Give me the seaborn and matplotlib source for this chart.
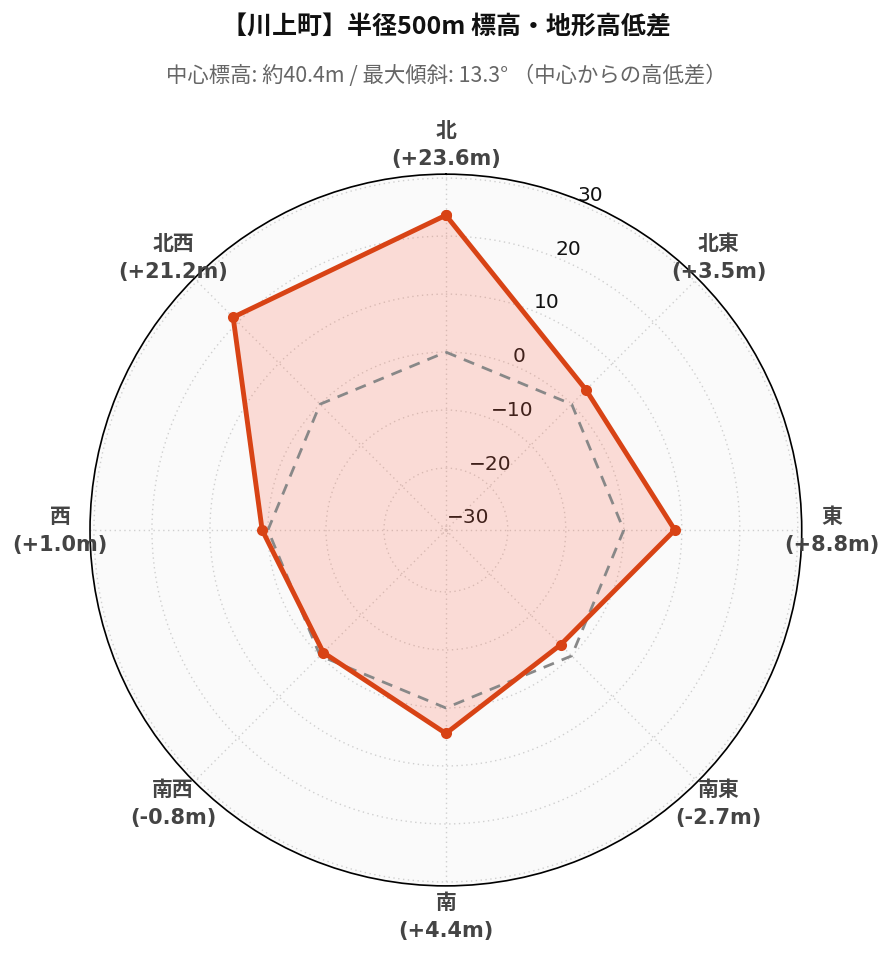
import numpy as np
import pandas as pd
import matplotlib
matplotlib.use("Agg")
import matplotlib.pyplot as plt
import seaborn as sns

# data
directions = ["北", "北東", "東", "南東", "南", "南西", "西", "北西"]
diffs = [23.6, 3.5, 8.8, -2.7, 4.4, -0.8, 1.0, 21.2]
radial_ticks = [-30, -20, -10, 0, 10, 20, 30]

title = "【川上町】半径500m 標高・地形高低差"
subtitle = "中心標高: 約40.4m / 最大傾斜: 13.3° （中心からの高低差）"

LINE = "#d84315"
FILL = "#ff6347"

sns.set_theme(style="white")
plt.rcParams["font.family"] = ["DejaVu Sans", "Noto Sans CJK JP"]
plt.rcParams["axes.unicode_minus"] = True

theta = np.deg2rad(np.arange(len(directions)) * 45.0)
df = pd.DataFrame({
    "theta": np.append(theta, 2 * np.pi),
    "value": diffs + diffs[:1],
    "zero": 0.0,
})

rmax = max(abs(v) for v in diffs) * 1.3
rmin = -rmax

fig = plt.figure(figsize=(8.93, 9.62), dpi=100)
ax = fig.add_axes([0.1008, 0.078, 0.797, 0.740], projection="polar")
ax.set_theta_zero_location("N")
ax.set_theta_direction(-1)
ax.set_facecolor("#fafafa")
ax.set_ylim(rmin, rmax)

# zero reference
sns.lineplot(data=df, x="theta", y="zero", sort=False, ax=ax, color="#888888",
             linestyle=(0, (4, 3)), linewidth=2, zorder=3)
# fill + outline
ax.fill(df["theta"], df["value"], color=FILL, alpha=0.2, zorder=2, linewidth=0)
sns.lineplot(data=df, x="theta", y="value", sort=False, ax=ax, color=LINE,
             linewidth=3.5, marker="o", markersize=8, markeredgewidth=0, zorder=4)

ax.set_xlabel("")
ax.set_ylabel("")

ax.set_xticks(theta)
ax.set_xticklabels([])
ax.set_yticks(radial_ticks)
ax.set_yticklabels([f"{t}".replace("-", "\u2212") for t in radial_ticks], fontsize=14.5,
                   color="#111111", family="DejaVu Sans")
ax.set_rlabel_position(22)
for lab in ax.get_yticklabels():
    lab.set_horizontalalignment("left")

ax.grid(True, color="#cfcfcf", linestyle=(0, (1, 2.5)), linewidth=1)
ax.spines["polar"].set_color("black")
ax.spines["polar"].set_linewidth(1.2)

r_lab = rmax + (rmax - rmin) * 0.084
for th, name, v in zip(theta, directions, diffs):
    ax.text(th, r_lab, f"{name}\n({v:+.1f}m)", ha="center", va="center",
            fontsize=15, fontweight="bold", color="#444444",
            linespacing=1.5, clip_on=False,
            family=["DejaVu Sans", "Noto Sans CJK JP"])

fig.text(0.5, 0.971, title, ha="center", va="center", fontsize=18,
         fontweight="bold", color="#111111", family=["Noto Sans CJK JP", "DejaVu Sans"])
fig.text(0.5, 0.921, subtitle, ha="center", va="center", fontsize=15.4,
         color="#666666", family=["Noto Sans CJK JP", "DejaVu Sans"])

fig.savefig("out.png", dpi=100, facecolor="white")
